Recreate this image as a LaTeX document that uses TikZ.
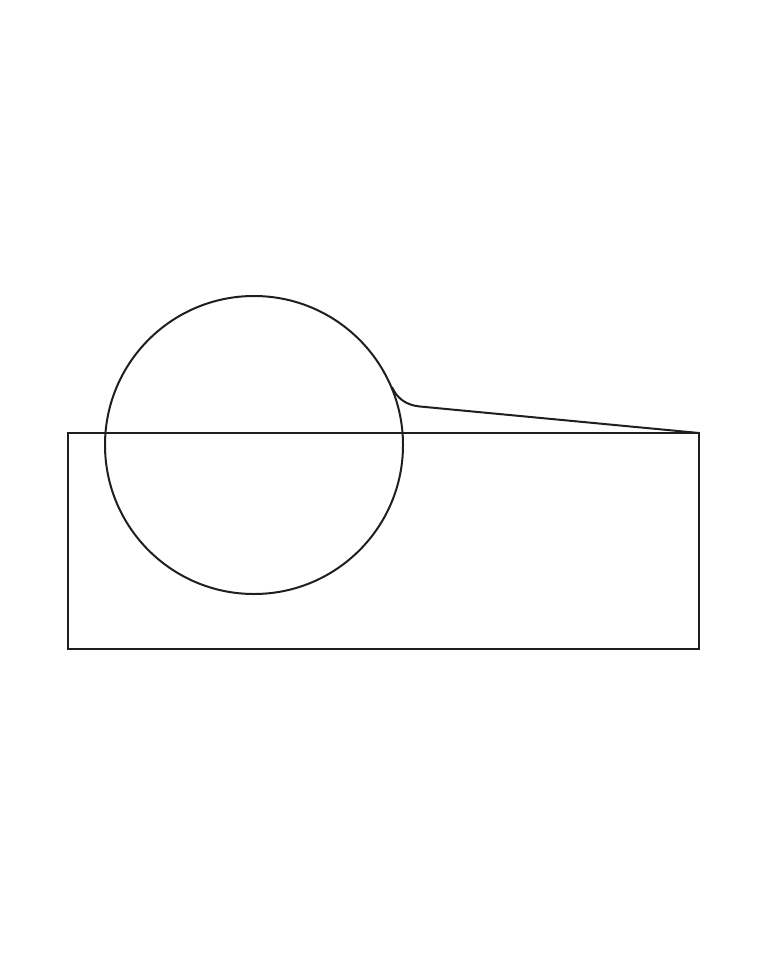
\documentclass[tikz,border=0pt]{standalone}
\begin{document}
\begin{tikzpicture}[x=1pt,y=-1pt,line width=2pt,shapeline/.style={draw=black!88}]
\useasboundingbox (0,0) rectangle (768,960);
\coordinate (tailstart) at (392,387);
\coordinate (bend) at (420,406.5);
\coordinate (corner) at (699,433);
\draw[shapeline] (68,433) rectangle (699,649);
\draw[shapeline] (254,445) circle[radius=149];
\draw[shapeline,line join=round] (tailstart) .. controls (396.7,398) and (406,405.3) .. (bend) -- (corner);
\end{tikzpicture}
\end{document}
